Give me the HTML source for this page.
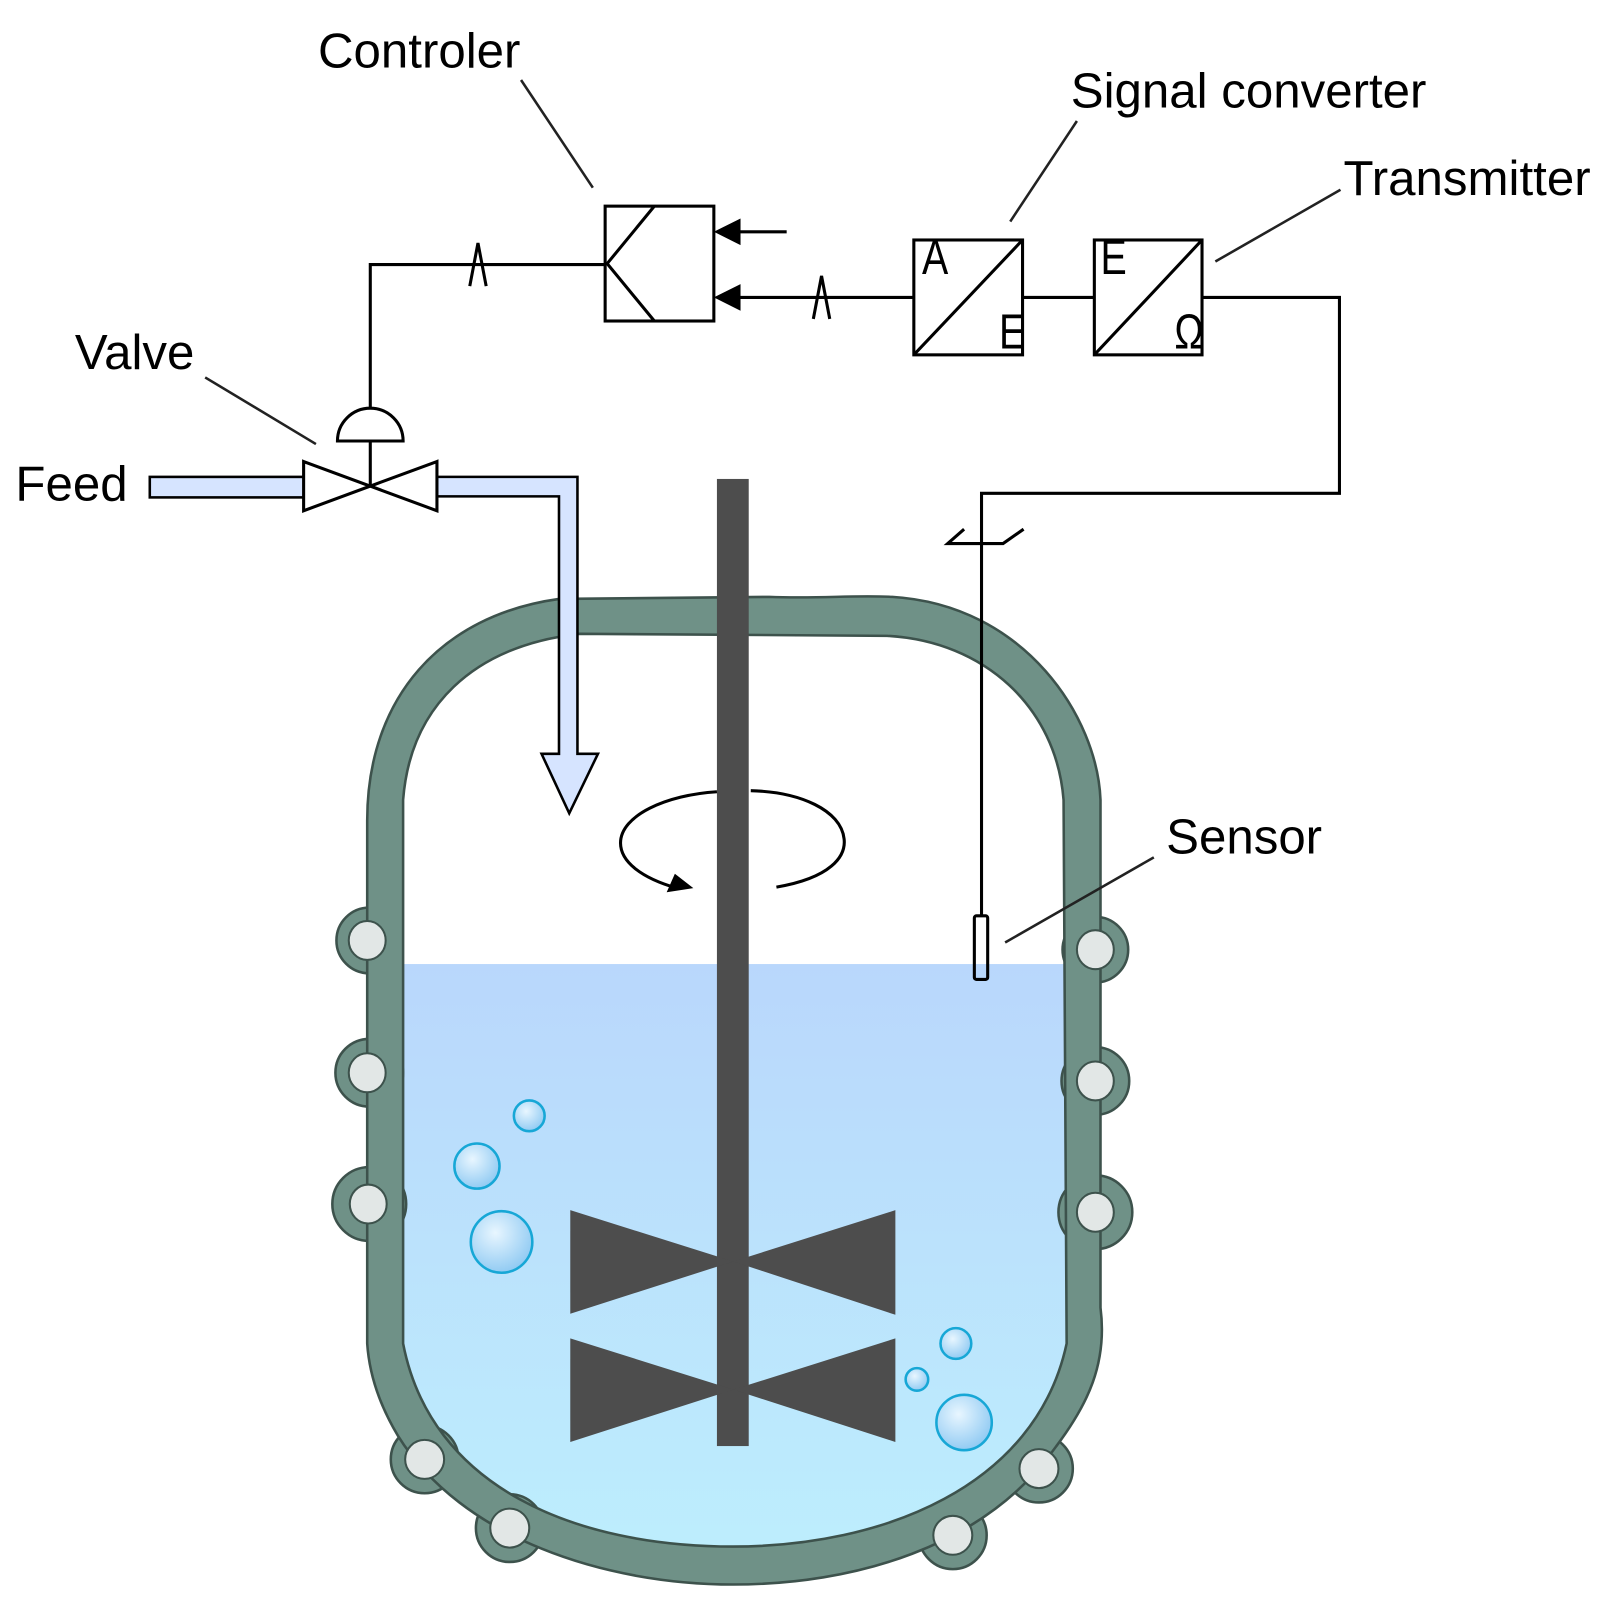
<!DOCTYPE html>
<html><head><meta charset="utf-8"><style>
html,body{margin:0;padding:0;background:#fff}
svg{display:block}
text{font-family:"Liberation Sans",sans-serif;font-size:48px;fill:#000}
</style></head><body>
<svg width="1600" height="1604" viewBox="0 0 1560 1564" xmlns="http://www.w3.org/2000/svg">
<defs>
<linearGradient id="liq" x1="0" y1="0" x2="0" y2="1">
<stop offset="0" stop-color="#b9d7fc"/><stop offset="1" stop-color="#bdeefd"/>
</linearGradient>
<radialGradient id="bub" cx="0.4" cy="0.35" r="0.7">
<stop offset="0" stop-color="#e8f6ff"/><stop offset="1" stop-color="#8cc8f2"/>
</radialGradient>
<clipPath id="inner">
<path d="M565,618 L865,620 C960,625 1030,690 1037,780 L1040,1310 C1010,1450 860,1508 715,1508 C560,1508 420,1450 393,1310 L393,780 C400,690 460,630 565,618 Z"/>
</clipPath>
</defs>

<rect x="380" y="940" width="680" height="580" fill="url(#liq)" clip-path="url(#inner)"/>

<g fill="#6f9187" stroke="#3d524c" stroke-width="2.5">
<circle cx="360" cy="917" r="32"/><circle cx="360" cy="1046" r="33"/><circle cx="360" cy="1174" r="36"/>
<circle cx="1068" cy="926" r="32"/><circle cx="1068" cy="1054" r="33"/><circle cx="1068" cy="1182" r="36"/>
<circle cx="414" cy="1423" r="33"/><circle cx="497" cy="1490" r="33"/><circle cx="929" cy="1497" r="33"/><circle cx="1013" cy="1432" r="33"/>
</g>
<path fill="#6f9187" stroke="#3d524c" stroke-width="2.5" fill-rule="evenodd"
d="M545,584 L750,582 C800,584 830,580 870,582 C1000,590 1070,700 1073,780 L1073,1275 C1080,1330 1060,1370 1030,1410 C960,1510 830,1545 715,1545 C590,1545 450,1500 388,1400 C370,1370 360,1340 358,1310 L358,800 C358,680 430,600 545,584 Z
M565,618 L865,620 C960,625 1030,690 1037,780 L1040,1310 C1010,1450 860,1508 715,1508 C560,1508 420,1450 393,1310 L393,780 C400,690 460,630 565,618 Z"/>
<g fill="#e2e7e6" stroke="#3d524c" stroke-width="2">
<ellipse cx="358" cy="917" rx="18" ry="19"/><ellipse cx="358" cy="1046" rx="18" ry="19"/><ellipse cx="359" cy="1174" rx="18" ry="19"/>
<ellipse cx="1068" cy="926" rx="18" ry="19"/><ellipse cx="1068" cy="1054" rx="18" ry="19"/><ellipse cx="1068" cy="1182" rx="18" ry="19"/>
<circle cx="414" cy="1423" r="19"/><circle cx="497" cy="1490" r="19"/><circle cx="929" cy="1497" r="19"/><circle cx="1013" cy="1432" r="19"/>
</g>

<g fill="url(#bub)" stroke="#17a7d6" stroke-width="2.5">
<circle cx="516" cy="1088" r="15"/><circle cx="465" cy="1137" r="22"/><circle cx="489" cy="1211" r="30"/>
<circle cx="932" cy="1310" r="15"/><circle cx="894" cy="1345" r="11"/><circle cx="940" cy="1387" r="27"/>
</g>

<g fill="#4d4d4d">
<rect x="699" y="467" width="31" height="943"/>
<polygon points="556,1180 715,1230 556,1281"/><polygon points="873,1180 715,1230 873,1282"/>
<polygon points="556,1305 715,1355 556,1406"/><polygon points="873,1305 715,1355 873,1406"/>
</g>

<path d="M757,865 C810,856 825,835 823,818 C820,790 780,772 732,771 M699,772 C650,775 605,795 605,822 C605,840 625,856 660,866" fill="none" stroke="#000" stroke-width="3"/>
<polygon points="676,866 650,870 658,852" fill="#000"/>

<rect x="146" y="465" width="152" height="20" fill="#d6e4ff" stroke="#000" stroke-width="2.5"/>
<path d="M424,465 L563,465 L563,735 L583,735 L555,793 L528,735 L545,735 L545,484 L424,484 Z" fill="#d6e4ff" stroke="#000" stroke-width="2.5"/>

<g fill="#fff" stroke="#000" stroke-width="3">
<polygon points="296,450 361,474 296,498"/><polygon points="426,450 361,474 426,498"/>
<path d="M329,430 A32,32 0 0 1 393,430 Z"/>
</g>
<g fill="none" stroke="#000" stroke-width="3">
<line x1="361" y1="430" x2="361" y2="474"/>
<polyline points="361,398 361,258 590,258"/>
<polyline points="458,279 466,237 474,279"/>
<rect x="590" y="201" width="106" height="112"/>
<polyline points="638,201 592,257 638,313"/>
<line x1="720" y1="226" x2="767" y2="226"/>
<line x1="720" y1="290" x2="891" y2="290"/>
<polyline points="793,311 801,269 809,311"/>
<rect x="891" y="234" width="106" height="112"/>
<line x1="891" y1="346" x2="997" y2="234"/>
<line x1="997" y1="290" x2="1067" y2="290"/>
<rect x="1067" y="234" width="105" height="112"/>
<line x1="1067" y1="346" x2="1172" y2="234"/>
<polyline points="1172,290 1306,290 1306,481 957,481 957,893"/>
<polyline points="940,516 924,530 978,530 998,516"/>
<rect x="950" y="893" width="13" height="62" rx="2"/>
</g>
<polygon points="696,226 722,213 722,239" fill="#000"/>
<polygon points="696,290 722,277 722,303" fill="#000"/>
<g style="font-size:28px">
<text x="899" y="267" transform="translate(899 267) scale(0.8 1) translate(-899 -267)">A</text>
<text x="974" y="340" transform="translate(974 340) scale(0.8 1) translate(-974 -340)">E</text>
<text x="1073" y="267" transform="translate(1073 267) scale(0.8 1) translate(-1073 -267)">E</text>
<text x="1145" y="340" transform="translate(1145 340) scale(0.8 1) translate(-1145 -340)">Ω</text>
</g>

<g stroke="#222" stroke-width="2.5">
<line x1="508" y1="78" x2="578" y2="183"/>
<line x1="1050" y1="118" x2="985" y2="216"/>
<line x1="1307" y1="185" x2="1185" y2="255"/>
<line x1="200" y1="368" x2="308" y2="433"/>
<line x1="1125" y1="836" x2="980" y2="919"/>
</g>

<text x="310" y="66">Controler</text>
<text x="1044" y="105">Signal converter</text>
<text x="1310" y="190">Transmitter</text>
<text x="73" y="360">Valve</text>
<text x="15" y="488">Feed</text>
<text x="1137" y="832">Sensor</text>
</svg>
</body></html>
